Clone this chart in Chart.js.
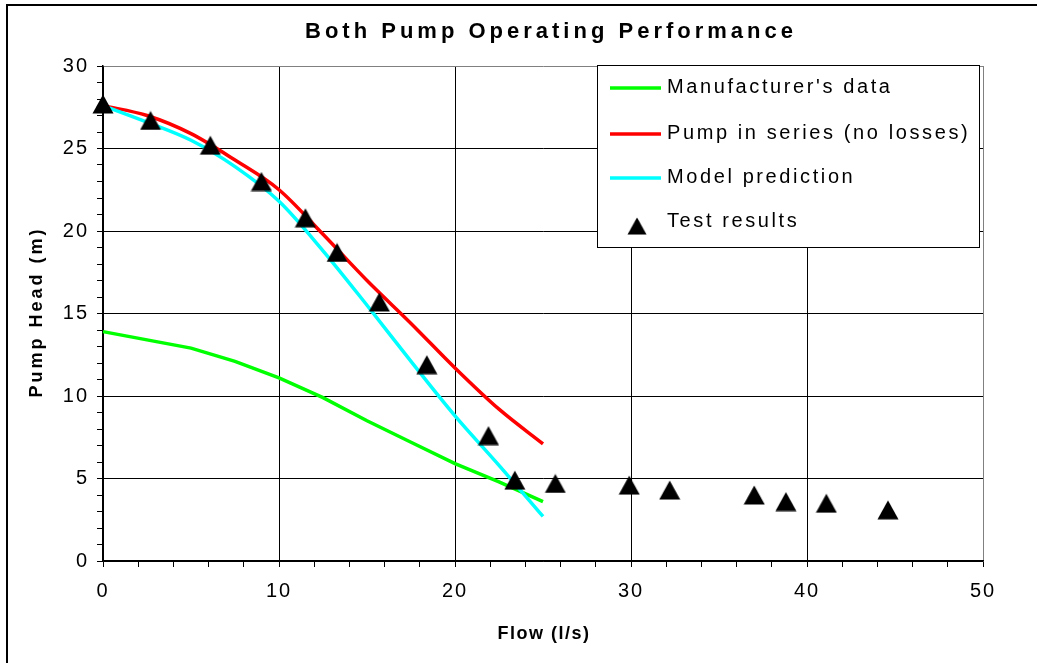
<!DOCTYPE html>
<html>
<head>
<meta charset="utf-8">
<script src="https://cdn.jsdelivr.net/npm/chart.js@4"></script>
<style>
  html, body { margin: 0; padding: 0; background: #fff; }
  canvas { display: block; }
</style>
</head>
<body>
<canvas id="chart" width="1037" height="663"></canvas>
<script>
// Flow (l/s) used by the three calculated curves
const curveFlow = [0, 2.5, 5, 7.5, 10, 12.5, 15, 17.5, 20, 22.5, 25];
const manufacturerHead = [13.9, 13.4, 12.9, 12.1, 11.1, 9.9, 8.5, 7.2, 5.9, 4.8, 3.6];
const seriesHead = [27.6, 27.0, 25.9, 24.3, 22.5, 19.8, 17.0, 14.4, 11.7, 9.2, 7.1];
const modelHead = [27.6, 26.6, 25.5, 23.9, 21.8, 18.8, 15.5, 12.1, 8.8, 5.8, 2.7];

// Measured points from the test rig
const testFlow = [0, 2.7, 6.1, 9.0, 11.5, 13.3, 15.7, 18.4, 21.9, 23.4, 25.7, 29.9, 32.2, 37.0, 38.8, 41.1, 44.6];
const testHead = [27.7, 26.7, 25.2, 23.0, 20.8, 18.7, 15.7, 11.9, 7.6, 4.9, 4.7, 4.6, 4.3, 4.0, 3.6, 3.5, 3.1];

const seriesNames = ["Manufacturer's data", 'Pump in series (no losses)', 'Model prediction', 'Test results'];
const seriesColors = ['#00ff00', '#ff0000', '#00ffff', '#000000'];

// tick marks (major + minor) and the values that get a label
const xTickValues = [0, 2, 4, 6, 8, 10, 12, 14, 16, 18, 20, 22, 24, 26, 28, 30, 32, 34, 36, 38, 40, 42, 44, 46, 48, 50];
const xTickLabels = [0, 10, 20, 30, 40, 50];
const yTickValues = [0, 1, 2, 3, 4, 5, 6, 7, 8, 9, 10, 11, 12, 13, 14, 15, 16, 17, 18, 19, 20, 21, 22, 23, 24, 25, 26, 27, 28, 29, 30];
const yTickLabels = [0, 5, 10, 15, 20, 25, 30];

const FONT = '"Liberation Sans", Arial, sans-serif';

// black triangle marker, centred on its bounding box
function makeTriangle(w, h) {
  const c = document.createElement('canvas');
  c.width = w;
  c.height = h;
  const g = c.getContext('2d');
  g.fillStyle = '#000';
  g.beginPath();
  g.moveTo(w / 2, 0.5);
  g.lineTo(w - 0.5, h - 0.5);
  g.lineTo(0.5, h - 0.5);
  g.closePath();
  g.fill();
  return c;
}
const triangle = makeTriangle(22, 20);

const toPoints = (xs, ys) => xs.map((x, i) => ({ x: x, y: ys[i] }));

function curve(i, ys, smooth) {
  return {
    label: seriesNames[i],
    data: toPoints(curveFlow, ys),
    showLine: true,
    borderColor: seriesColors[i],
    backgroundColor: seriesColors[i],
    borderWidth: 3.5,
    pointRadius: 0,
    tension: smooth ? 0.4 : 0,
    cubicInterpolationMode: smooth ? 'monotone' : 'default',
    clip: false,
    order: 3 - i
  };
}

// frame, titles and legend box
const decorations = {
  id: 'decorations',
  beforeDraw(chart) {
    chart.ctx.letterSpacing = '2px';
  },
  afterDraw(chart) {
    const ctx = chart.ctx;
    ctx.save();

    // outer chart border
    ctx.strokeStyle = '#000';
    ctx.lineWidth = 2;
    ctx.beginPath();
    ctx.moveTo(7, 663);
    ctx.lineTo(7, 5);
    ctx.lineTo(1037, 5);
    ctx.stroke();

    ctx.fillStyle = '#000';
    ctx.textBaseline = 'middle';

    // chart title
    ctx.font = 'bold 22px ' + FONT;
    ctx.letterSpacing = '4px';
    ctx.textAlign = 'center';
    ctx.fillText('Both Pump Operating Performance', 551, 32);

    // axis titles
    ctx.font = 'bold 18px ' + FONT;
    ctx.letterSpacing = '1.5px';
    ctx.fillText('Flow (l/s)', 544, 634);
    ctx.save();
    ctx.translate(37, 313);
    ctx.rotate(-Math.PI / 2);
    ctx.letterSpacing = '3px';
    ctx.fillText('Pump Head (m)', 1, 0);
    ctx.restore();

    // legend
    const L = 597.5, T = 65.5, R = 979.5, B = 247.5;
    ctx.fillStyle = '#fff';
    ctx.fillRect(L, T, R - L, B - T);
    ctx.strokeStyle = '#000';
    ctx.lineWidth = 1;
    ctx.strokeRect(L, T, R - L, B - T);

    const rowY = [87, 133, 177, 221];
    ctx.font = '20px ' + FONT;
    ctx.letterSpacing = '2.6px';
    ctx.textAlign = 'left';
    seriesNames.forEach((name, i) => {
      const y = rowY[i];
      if (i < 3) {
        ctx.strokeStyle = seriesColors[i];
        ctx.lineWidth = 3.5;
        ctx.beginPath();
        ctx.moveTo(610, y + 1);
        ctx.lineTo(661, y + 1);
        ctx.stroke();
      } else {
        ctx.drawImage(triangle, 637 - 10, y + 5 - 9, 20, 18);
      }
      ctx.fillStyle = '#000';
      ctx.fillText(name, 667, y);
    });

    ctx.restore();
  }
};

const gridColor = (ctx, last) => {
  const v = ctx.tick ? ctx.tick.value : null;
  if (v === last) return '#808080';
  return (v % (last / 5 === 10 ? 10 : 5) === 0) ? '#000' : 'rgba(0,0,0,0)';
};

new Chart(document.getElementById('chart'), {
  type: 'scatter',
  data: {
    datasets: [
      curve(0, manufacturerHead, false),
      curve(1, seriesHead, true),
      curve(2, modelHead, true),
      {
        label: seriesNames[3],
        data: toPoints(testFlow, testHead),
        pointStyle: triangle,
        pointRadius: 11,
        pointHoverRadius: 11,
        showLine: false,
        clip: false,
        order: 0
      }
    ]
  },
  options: {
    responsive: false,
    animation: false,
    events: [],
    layout: { padding: { top: 66, right: 54, bottom: 0, left: 0 } },
    plugins: {
      legend: { display: false },
      title: { display: false },
      tooltip: { enabled: false }
    },
    scales: {
      x: {
        type: 'linear',
        position: 'bottom',
        min: 0,
        max: 50,
        afterBuildTicks: s => { s.ticks = xTickValues.map(v => ({ value: v })); },
        afterFit: s => { s.height = 102; },
        ticks: {
          autoSkip: false,
          maxRotation: 0,
          color: '#000',
          padding: 12,
          font: { family: FONT, size: 20 },
          callback: v => xTickLabels.includes(v) ? String(v) : ''
        },
        grid: {
          color: c => gridColor(c, 50),
          lineWidth: 1,
          tickLength: 6,
          tickColor: '#000',
          tickWidth: 1
        },
        border: { display: true, color: '#000', width: 1.5 }
      },
      y: {
        type: 'linear',
        position: 'left',
        min: 0,
        max: 30,
        afterBuildTicks: s => { s.ticks = yTickValues.map(v => ({ value: v })); },
        afterFit: s => { s.width = 103; },
        ticks: {
          autoSkip: false,
          color: '#000',
          padding: 8,
          font: { family: FONT, size: 20 },
          callback: v => yTickLabels.includes(v) ? String(v) : ''
        },
        grid: {
          color: c => gridColor(c, 30),
          lineWidth: 1,
          tickLength: 6,
          tickColor: '#000',
          tickWidth: 1
        },
        border: { display: true, color: '#000', width: 1.5 }
      }
    }
  },
  plugins: [decorations]
});
</script>
</body>
</html>
